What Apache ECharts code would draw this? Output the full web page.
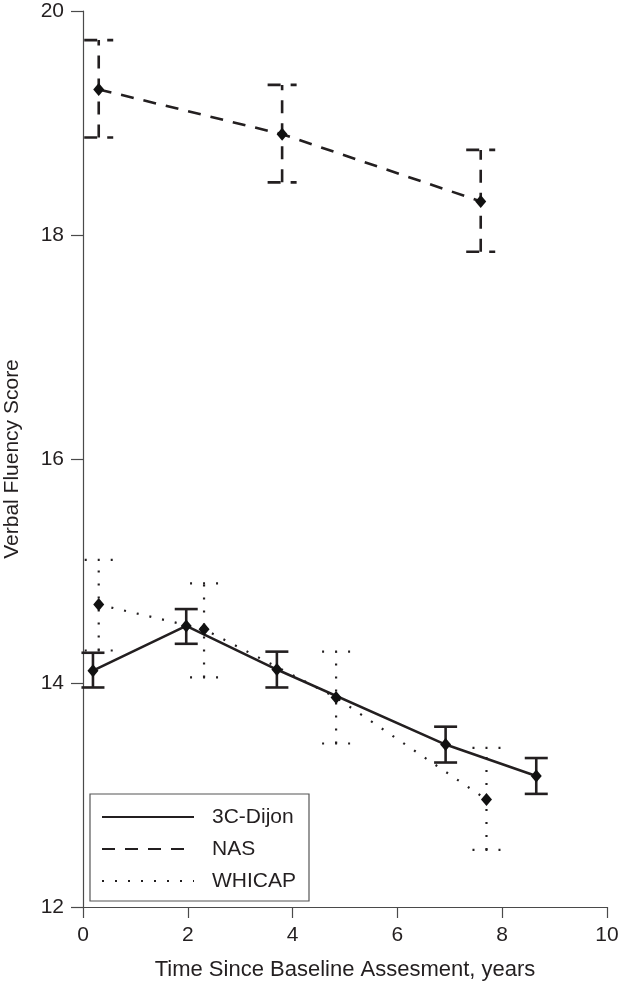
<!DOCTYPE html>
<html>
<head>
<meta charset="utf-8">
<script src="https://cdn.jsdelivr.net/npm/echarts@6/dist/echarts.min.js"></script>
<style>
html,body{margin:0;padding:0;background:#fff;}
#chart{width:620px;height:984px;}
</style>
</head>
<body>
<div id="chart"></div>
<script>
// ---- Data ----
var seriesNames = ['3C-Dijon', 'NAS', 'WHICAP'];

var dijonX   = [0.19, 1.97, 3.70, 6.92, 8.65];
var dijonY   = [14.11, 14.51, 14.12, 13.45, 13.17];
var dijonLo  = [13.96, 14.35, 13.96, 13.29, 13.01];
var dijonHi  = [14.27, 14.66, 14.28, 13.61, 13.33];

var nasX     = [0.30, 3.80, 7.59];
var nasY     = [19.30, 18.90, 18.30];
var nasLo    = [18.87, 18.47, 17.85];
var nasHi    = [19.74, 19.34, 18.76];

var whicapX  = [0.30, 2.31, 4.83, 7.70];
var whicapY  = [14.70, 14.48, 13.87, 12.96];
var whicapLo = [14.29, 14.05, 13.46, 12.51];
var whicapHi = [15.10, 14.89, 14.28, 13.42];

var xTicks = [0, 2, 4, 6, 8, 10];
var yTicks = [12, 14, 16, 18, 20];

// ---- Styles ----
var INK = '#231f20';
var AXIS = '#4a4a4a';
var FONT = '"Liberation Sans", Arial, Helvetica, sans-serif';
var styles = {
  '3C-Dijon': { type: 'solid', width: 2.6, dash: null, cap: 11.5 },
  'NAS':      { type: [13, 10], width: 2.6, dash: [13, 10], cap: 14.5 },
  'WHICAP':   { type: [2, 11], width: 2.2, dash: [2, 11], cap: 14 }
};

function pairs(xs, ys) { return xs.map(function (x, i) { return [x, ys[i]]; }); }
function triples(xs, lo, hi) { return xs.map(function (x, i) { return [x, lo[i], hi[i]]; }); }

function errRender(st) {
  return function (params, api) {
    var x = api.value(0), lo = api.value(1), hi = api.value(2);
    var a = api.coord([x, lo]), b = api.coord([x, hi]);
    var s = { stroke: INK, lineWidth: st.width, lineDash: st.dash, fill: null };
    return {
      type: 'group',
      children: [
        { type: 'line', shape: { x1: a[0], y1: a[1], x2: b[0], y2: b[1] }, style: s },
        { type: 'line', shape: { x1: a[0] - st.cap, y1: a[1], x2: a[0] + st.cap, y2: a[1] }, style: s },
        { type: 'line', shape: { x1: b[0] - st.cap, y1: b[1], x2: b[0] + st.cap, y2: b[1] }, style: s }
      ]
    };
  };
}

var groups = [
  { name: '3C-Dijon', x: dijonX, y: dijonY, lo: dijonLo, hi: dijonHi },
  { name: 'NAS', x: nasX, y: nasY, lo: nasLo, hi: nasHi },
  { name: 'WHICAP', x: whicapX, y: whicapY, lo: whicapLo, hi: whicapHi }
];

var series = [];
groups.forEach(function (g) {
  var st = styles[g.name];
  series.push({
    name: g.name,
    type: 'line',
    data: pairs(g.x, g.y),
    symbol: 'none',
    lineStyle: { color: INK, width: st.width, type: st.type },
    itemStyle: { color: INK },
    z: 3,
    animation: false
  });
  series.push({
    type: 'custom',
    data: triples(g.x, g.lo, g.hi),
    encode: { x: 0, y: [1, 2] },
    renderItem: errRender(st),
    z: 2,
    silent: true,
    animation: false
  });
  series.push({
    type: 'scatter',
    data: pairs(g.x, g.y),
    symbol: 'diamond',
    symbolSize: [11, 13],
    itemStyle: { color: '#111', opacity: 1 },
    z: 4,
    silent: true,
    animation: false
  });
});

var chart = echarts.init(document.getElementById('chart'), null, { renderer: 'canvas' });
chart.setOption({
  backgroundColor: '#ffffff',
  animation: false,
  grid: { left: 83, right: 13, top: 11, bottom: 77, containLabel: false, outerBoundsMode: 'none' },
  legend: {
    data: seriesNames,
    orient: 'vertical',
    left: 90,
    top: 794,
    itemWidth: 92,
    itemHeight: 14,
    itemGap: 8,
    padding: [11, 13, 8, 11],
    borderColor: '#555',
    borderWidth: 1.2,
    itemStyle: { opacity: 0 },
    textStyle: { fontFamily: FONT, fontSize: 21, color: INK, lineHeight: 24, padding: [0, 0, 0, 13] },
    selectedMode: false
  },
  xAxis: {
    type: 'value',
    min: xTicks[0],
    max: xTicks[xTicks.length - 1],
    interval: 2,
    name: 'Time Since Baseline Assesment, years',
    nameLocation: 'middle',
    nameGap: 52,
    nameTextStyle: { fontFamily: FONT, fontSize: 22, color: INK },
    axisLine: { show: true, lineStyle: { color: AXIS, width: 1.2 } },
    axisTick: { show: true, length: 11, lineStyle: { color: AXIS, width: 1.2 } },
    axisLabel: { margin: 18, fontFamily: FONT, fontSize: 21, color: INK },
    splitLine: { show: false }
  },
  yAxis: {
    type: 'value',
    min: yTicks[0],
    max: yTicks[yTicks.length - 1],
    interval: 2,
    name: 'Verbal Fluency Score',
    nameLocation: 'middle',
    nameGap: 60,
    nameTextStyle: { fontFamily: FONT, fontSize: 21, color: INK },
    axisLine: { show: true, lineStyle: { color: AXIS, width: 1.2 } },
    axisTick: { show: true, length: 12, lineStyle: { color: AXIS, width: 1.2 } },
    axisLabel: { margin: 19, fontFamily: FONT, fontSize: 21, color: INK },
    splitLine: { show: false }
  },
  series: series
});
</script>
</body>
</html>
